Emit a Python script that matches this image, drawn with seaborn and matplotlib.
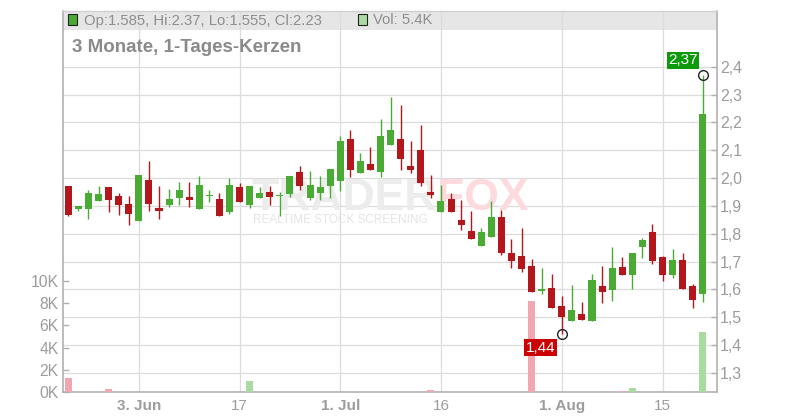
import numpy as np
import pandas as pd
import matplotlib
matplotlib.use("Agg")
import matplotlib.pyplot as plt
from matplotlib.patches import Rectangle
from matplotlib.ticker import FuncFormatter, FixedLocator
import seaborn as sns

# ---------------- data ----------------
opens = [1.970, 1.889, 1.889, 1.917, 1.968, 1.935, 1.907, 1.846, 1.993, 1.892,
         1.903, 1.928, 1.932, 1.889, 1.934, 1.925, 1.878, 1.968, 1.903, 1.928,
         1.950, 1.934, 1.943, 2.022, 1.928, 1.946, 1.972, 1.989, 2.140, 2.018,
         2.050, 2.023, 2.119, 2.140, 2.044, 2.101, 1.951, 1.879, 1.925, 1.849,
         1.810, 1.756, 1.788, 1.860, 1.731, 1.720, 1.684, 1.594, 1.606, 1.540,
         1.487, 1.511, 1.486, 1.612, 1.598, 1.680, 1.652, 1.752, 1.806, 1.716,
         1.652, 1.705, 1.612, 1.585]
highs = [1.970, 1.900, 1.957, 1.971, 1.968, 1.946, 1.935, 2.011, 2.061, 1.971,
         1.961, 1.986, 1.986, 2.007, 1.957, 1.946, 2.000, 1.982, 1.971, 1.968,
         1.971, 1.950, 2.007, 2.043, 2.025, 2.007, 2.032, 2.151, 2.172, 2.090,
         2.111, 2.212, 2.291, 2.262, 2.133, 2.190, 2.011, 1.975, 1.946, 1.921,
         1.881, 1.820, 1.917, 1.885, 1.781, 1.820, 1.709, 1.678, 1.655, 1.577,
         1.616, 1.554, 1.655, 1.684, 1.752, 1.716, 1.731, 1.785, 1.835, 1.720,
         1.745, 1.731, 1.619, 2.37]
lows = [1.865, 1.883, 1.853, 1.917, 1.879, 1.867, 1.831, 1.846, 1.881, 1.853,
        1.896, 1.903, 1.896, 1.889, 1.914, 1.864, 1.871, 1.914, 1.892, 1.928,
        1.903, 1.864, 1.932, 1.957, 1.921, 1.921, 1.929, 1.953, 2.005, 2.018,
        2.030, 2.005, 2.119, 2.029, 2.018, 1.972, 1.929, 1.879, 1.879, 1.813,
        1.781, 1.756, 1.788, 1.723, 1.677, 1.664, 1.592, 1.585, 1.534, 1.44,
        1.487, 1.490, 1.486, 1.551, 1.558, 1.652, 1.601, 1.713, 1.691, 1.630,
        1.641, 1.601, 1.533, 1.555]
closes = [1.867, 1.899, 1.946, 1.943, 1.921, 1.903, 1.871, 2.011, 1.907, 1.881,
          1.925, 1.957, 1.921, 1.975, 1.936, 1.864, 1.975, 1.914, 1.971, 1.946,
          1.932, 1.936, 2.007, 1.971, 1.975, 1.968, 2.032, 2.133, 2.029, 2.061,
          2.030, 2.151, 2.172, 2.068, 2.029, 1.983, 1.940, 1.917, 1.879, 1.831,
          1.781, 1.806, 1.860, 1.731, 1.703, 1.674, 1.592, 1.596, 1.534, 1.502,
          1.526, 1.490, 1.634, 1.590, 1.677, 1.652, 1.731, 1.777, 1.702, 1.652,
          1.705, 1.601, 1.562, 2.23]
volumes = [1300, 0, 0, 0, 300, 0, 0, 0, 0, 0,
           0, 0, 0, 0, 0, 0, 0, 0, 1000, 0,
           0, 0, 0, 0, 0, 0, 0, 0, 0, 0,
           0, 0, 0, 0, 0, 0, 200, 0, 0, 0,
           0, 0, 0, 0, 0, 0, 8200, 0, 0, 0,
           0, 0, 0, 0, 0, 120, 400, 0, 0, 0,
           0, 0, 0, 5400]
date_tick_pos = [7, 17, 27, 37, 49, 59]
date_tick_labels = ["3. Jun", "17", "1. Jul", "16", "1. Aug", "15"]
date_tick_bold = [True, False, True, False, True, False]
price_ticks = [1.3, 1.4, 1.5, 1.6, 1.7, 1.8, 1.9, 2.0, 2.1, 2.2, 2.3, 2.4]
vol_ticks = [0, 2000, 4000, 6000, 8000, 10000]
title = "3 Monate, 1-Tages-Kerzen"

# ---------------- style ----------------
sns.set_style("white")
plt.rcParams['font.family'] = ['Liberation Sans', 'DejaVu Sans']

GREEN = "#4aab34"
RED = "#b3161b"
VGREEN = "#a9dba0"
VRED = "#f0a7b1"
GRID = "#dcdcdc"
AXC = "#b0b0b0"
TXT = "#9c9c9c"

W, H = 800, 420
fig = plt.figure(figsize=(8, 4.2), dpi=100)
L, R, T, B = 63, 716.7, 11, 392.3
axp = fig.add_axes([L / W, (H - B) / H, (R - L) / W, (B - T) / H])
axv = axp.twinx()

n = len(opens)
idx = np.arange(n)
o = np.array(opens); c = np.array(closes); hi = np.array(highs); lo = np.array(lows)
up = c >= o
df = pd.DataFrame({"idx": idx, "vol": volumes,
                   "dir": np.where(up, "up", "down")})

# ---------------- price axis (bottom layer) ----------------
axp.set_xlim(-0.53, 64.38)
axp.set_ylim(1.2301, 2.6001)
axp.set_axisbelow(True)
axp.yaxis.set_major_locator(FixedLocator(price_ticks))
axp.yaxis.set_major_formatter(FuncFormatter(lambda v, p: f"{v:.1f}".replace(".", ",")))
axp.yaxis.tick_right()
axp.xaxis.set_major_locator(FixedLocator(date_tick_pos))
axp.set_xticklabels(date_tick_labels)
for lab, b in zip(axp.get_xticklabels(), date_tick_bold):
    lab.set_fontweight("bold" if b else "normal")
axp.grid(True, color=GRID, lw=0.9)
axp.tick_params(axis='y', direction='in', length=4, width=1, color=AXC,
                labelsize=11.5, labelcolor=TXT, pad=2.5, right=True, left=False)
axp.tick_params(axis='x', length=0, labelsize=11, labelcolor=TXT, pad=5)
for s in ["left", "bottom", "right"]:
    axp.spines[s].set_color(AXC)
    axp.spines[s].set_linewidth(1.2)
axp.spines["top"].set_color("#d0d0d0")
axp.spines["top"].set_linewidth(1.0)

# header band
band_h = (30 - T) / (B - T)
axp.add_patch(Rectangle((0, 1 - band_h), 1, band_h, transform=axp.transAxes,
                        facecolor="#e6e6e6", edgecolor="none", zorder=0.1))

# watermark
axp.text(437 / W, 1 - 210 / H, "TRADER", transform=fig.transFigure, ha="right",
         va="baseline", fontsize=32, fontweight="bold", color="#ececec", zorder=0.6)
axp.text(437 / W, 1 - 210 / H, "FOX", transform=fig.transFigure, ha="left",
         va="baseline", fontsize=32, fontweight="bold", color="#fcdadd", zorder=0.6)
axp.text(340 / W, 1 - 223 / H, "REALTIME STOCK SCREENING", transform=fig.transFigure,
         ha="center", va="baseline", fontsize=8.5, color="#e4e4e4", zorder=0.6)

# candles
cols = np.where(up, GREEN, RED)
axp.vlines(idx, lo, hi, colors=cols, lw=1.0, zorder=2)
body_b = np.minimum(o, c)
body_h = np.maximum(np.abs(c - o), 0.006)
axp.bar(idx, body_h, bottom=body_b, width=0.7, color=cols, linewidth=0, zorder=3)

# ---------------- volume axis (top layer) ----------------
sns.barplot(data=df, x="idx", y="vol", hue="dir", palette={"up": VGREEN, "down": VRED},
            native_scale=True, width=0.7, dodge=False, legend=False, errorbar=None,
            saturation=1, linewidth=0, ax=axv)
axv.set_xlim(-0.53, 64.38)
axv.set_ylim(0, (B - T) / 11.16 * 1000)
axv.yaxis.set_major_locator(FixedLocator(vol_ticks))
axv.yaxis.set_major_formatter(FuncFormatter(lambda v, p: f"{v/1000:.0f}K"))
axv.yaxis.set_ticks_position('left')
axv.yaxis.set_label_position('left')
axv.tick_params(axis='y', direction='in', length=4, width=1, color=AXC,
                labelsize=11.3, labelcolor=TXT, pad=3, left=True, right=False)
axv.tick_params(axis='x', bottom=False, labelbottom=False)
axv.set_xlabel(""); axv.set_ylabel(""); axp.set_xlabel(""); axp.set_ylabel("")
for s in axv.spines.values():
    s.set_visible(False)

# high / low markers
i_hi = int(np.argmax(hi)); i_lo = int(np.argmin(lo))
axv.plot([i_hi], [hi[i_hi]], "o", mfc="none", mec="#222222", ms=7, mew=1,
         transform=axp.transData, zorder=5)
axv.plot([i_lo], [lo[i_lo]], "o", mfc="none", mec="#222222", ms=7, mew=1,
         transform=axp.transData, zorder=5)
axv.annotate(f"{hi[i_hi]:.2f}".replace(".", ","), xy=(i_hi, hi[i_hi]), xycoords=axp.transData,
             xytext=(-20, 15), textcoords="offset pixels", ha="center", va="center",
             color="white", fontsize=11,
             bbox=dict(boxstyle="square,pad=0.1", fc="#0c9a0c", ec="none"), zorder=6)
axv.annotate(f"{lo[i_lo]:.2f}".replace(".", ","), xy=(i_lo, lo[i_lo]), xycoords=axp.transData,
             xytext=(-21, -14), textcoords="offset pixels", ha="center", va="center",
             color="white", fontsize=11,
             bbox=dict(boxstyle="square,pad=0.1", fc="#cc0000", ec="none"), zorder=6)
axv.set_xlim(-0.53, 64.38)
axv.set_ylim(0, (B - T) / 11.16 * 1000)

# ---------------- header texts ----------------
fig.add_artist(Rectangle((68 / W, 1 - 25 / H), 9 / W, 11 / H, transform=fig.transFigure,
                         facecolor=GREEN, edgecolor="#222222", lw=0.8))
fig.text(84 / W, 1 - 20.5 / H,
         f"Op:{opens[-1]}, Hi:{highs[-1]}, Lo:{lows[-1]}, Cl:{closes[-1]}",
         ha="left", va="center", fontsize=10.7, color="#8e8e8e")
fig.add_artist(Rectangle((358 / W, 1 - 25 / H), 9 / W, 11 / H, transform=fig.transFigure,
                         facecolor=VGREEN, edgecolor="#222222", lw=0.8))
fig.text(373 / W, 1 - 20.5 / H, f"Vol: {volumes[-1] / 1000:.1f}K",
         ha="left", va="center", fontsize=10.7, color="#8e8e8e")
fig.text(72 / W, 1 - 47 / H, title, ha="left", va="center", fontsize=13.5,
         fontweight="bold", color="#8a8a8a")

fig.savefig("out.png", dpi=100)
